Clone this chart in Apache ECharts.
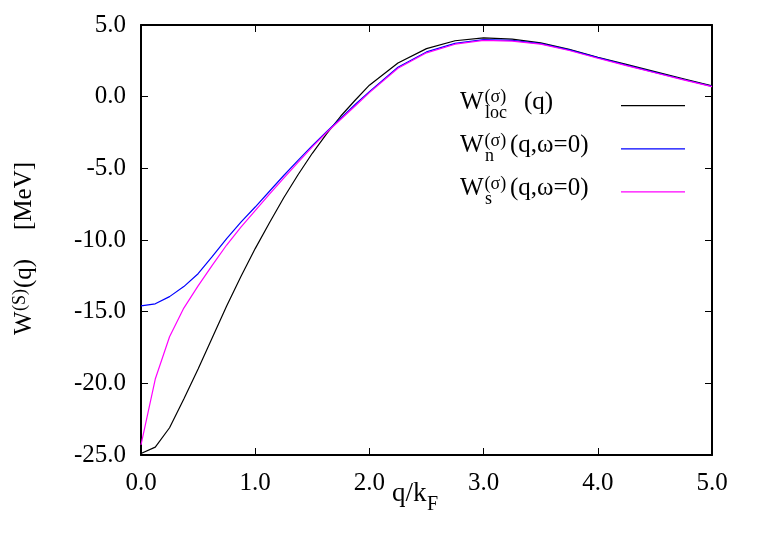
<!DOCTYPE html>
<html>
<head>
<meta charset="utf-8">
<script src="https://cdn.jsdelivr.net/npm/echarts@6/dist/echarts.min.js"></script>
<style>
  html, body { margin: 0; padding: 0; background: #fff; }
  #chart { width: 771px; height: 540px; }
</style>
</head>
<body>
<div id="chart"></div>
<script>
// q/k_F sample points
const qValues = [0, 0.125, 0.25, 0.375, 0.5, 0.625, 0.75, 0.875, 1.0, 1.125, 1.25, 1.375, 1.5, 1.625, 1.75, 1.875,
  2.0, 2.25, 2.5, 2.75, 3.0, 3.25, 3.5, 3.75, 4.0, 4.25, 4.5, 4.75, 5.0]
// W_loc(q)
const wLoc = [-24.9, -24.45, -23.1, -21.1, -19.0, -16.8, -14.6, -12.55, -10.6, -8.8, -7.05, -5.45, -3.95, -2.6, -1.35, -0.25,
  0.8, 2.35, 3.35, 3.9, 4.1, 4.02, 3.75, 3.3, 2.75, 2.25, 1.75, 1.25, 0.75]
// W_n(q, w=0)
const wN = [-14.6, -14.45, -13.95, -13.25, -12.35, -11.15, -9.9, -8.75, -7.7, -6.6, -5.5, -4.45, -3.42, -2.45, -1.5, -0.55,
  0.35, 2.05, 3.12, 3.72, 3.98, 3.93, 3.7, 3.27, 2.72, 2.2, 1.7, 1.2, 0.72]
// W_s(q, w=0)
const wS = [-24.3, -19.7, -16.75, -14.75, -13.2, -11.75, -10.35, -9.1, -7.95, -6.8, -5.68, -4.58, -3.5, -2.5, -1.58, -0.65,
  0.28, 1.98, 3.06, 3.66, 3.93, 3.88, 3.66, 3.22, 2.68, 2.17, 1.67, 1.17, 0.7]
const xTicks = [0, 1, 2, 3, 4, 5]
const yTicks = [-25, -20, -15, -10, -5, 0, 5]

const FONT = 'Liberation Serif'
const seriesNames = ['loc', 'n', 's']
const seriesColors = ['#000000', '#0000ff', '#ff00ff']
const seriesValues = [wLoc, wN, wS]

const chart = echarts.init(document.getElementById('chart'), null, { renderer: 'canvas' })

// place text by its alphabetic baseline (middle of em box sits ~0.34em above it)
function txt (x, y, text, size, align) {
  return {
    type: 'text',
    style: {
      x: x,
      y: y - size * 0.34,
      text: text,
      fontSize: size,
      fontFamily: FONT,
      fill: '#000',
      textAlign: align || 'left',
      textVerticalAlign: 'middle'
    },
    silent: true
  }
}

function legendEntry (i, sub, tail, tailX) {
  const base = 110.7 + i * 43.3
  const lineY = 105.7 + i * 43.1
  return [
    txt(460, base, 'W', 25),
    txt(484.5, base - 7, '(σ)', 18),
    txt(485, base + 8.5, sub, 18),
    txt(tailX, base, tail, 25),
    {
      type: 'line',
      shape: { x1: 621, y1: lineY, x2: 685, y2: lineY },
      style: { stroke: seriesColors[i], lineWidth: 1.2 },
      silent: true
    }
  ]
}

const axisCommon = {
  type: 'value',
  splitLine: { show: false },
  axisLine: { show: true, onZero: false, lineStyle: { color: '#000', width: 2 } },
  axisTick: { show: true, inside: true, length: 7, lineStyle: { color: '#000', width: 1 } }
}

const option = {
  animation: false,
  backgroundColor: '#fff',
  textStyle: { fontFamily: FONT },
  grid: { left: 141, right: 59, top: 25, bottom: 85, outerBoundsMode: 'none' },
  xAxis: [
    Object.assign({}, axisCommon, {
      min: 0, max: 5, interval: 1, position: 'bottom',
      axisLabel: {
        color: '#000', fontFamily: FONT, fontSize: 25, margin: 16,
        formatter: v => xTicks.includes(v) ? v.toFixed(1) : ''
      }
    }),
    Object.assign({}, axisCommon, {
      min: 0, max: 5, interval: 1, position: 'top', axisLabel: { show: false }
    })
  ],
  yAxis: [
    Object.assign({}, axisCommon, {
      min: -25, max: 5, interval: 5, position: 'left',
      axisLabel: {
        color: '#000', fontFamily: FONT, fontSize: 25, margin: 15,
        formatter: v => yTicks.includes(v) ? v.toFixed(1) : ''
      }
    }),
    Object.assign({}, axisCommon, {
      min: -25, max: 5, interval: 5, position: 'right', axisLabel: { show: false }
    })
  ],
  series: seriesValues.map((vals, i) => ({
    name: seriesNames[i],
    type: 'line',
    showSymbol: false,
    smooth: false,
    data: qValues.map((q, k) => [q, vals[k]]),
    lineStyle: { color: seriesColors[i], width: 1.2 },
    itemStyle: { color: seriesColors[i] },
    z: 2 + i
  })),
  graphic: [
    // x axis title q/k_F
    txt(392, 503, 'q/k', 27),
    txt(427, 512, 'F', 20),
    // y axis title, rotated
    {
      type: 'group',
      x: 33,
      y: 335,
      rotation: Math.PI / 2,
      children: [
        txt(0, 0, 'W', 25),
        txt(24, -7, '(S)', 18),
        txt(47, 0, '(q)', 25),
        txt(105, 0, '[MeV]', 25)
      ]
    },
    ...legendEntry(0, 'loc', '(q)', 524),
    ...legendEntry(1, 'n', '(q,ω=0)', 510),
    ...legendEntry(2, 's', '(q,ω=0)', 510)
  ]
}

chart.setOption(option)
</script>
</body>
</html>
